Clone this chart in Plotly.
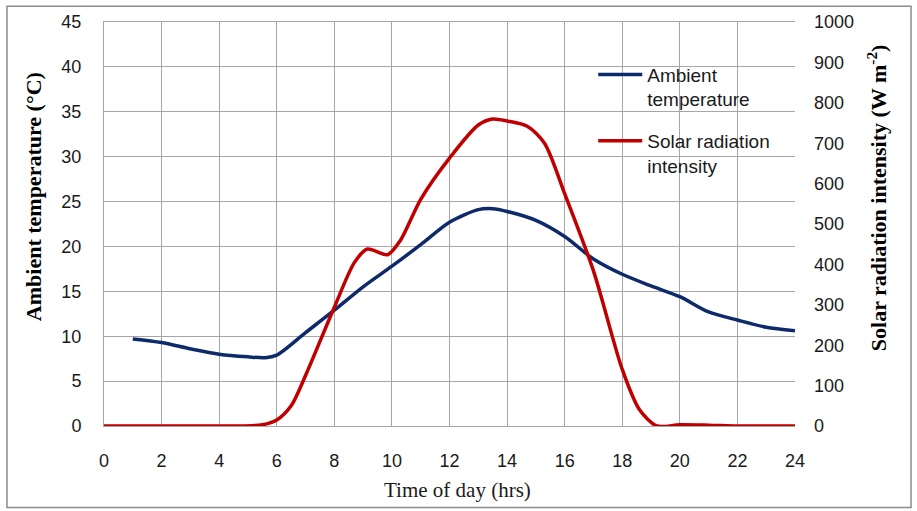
import plotly.graph_objects as go

hours_temp = [1, 2, 3, 4, 5, 5.6, 6, 7, 8, 9, 10, 11, 12, 13, 13.5, 14, 15, 16, 17, 18, 19, 20, 21, 22, 23, 24]
ambient_temp = [9.7, 9.3, 8.6, 8.0, 7.7, 7.6, 7.9, 10.4, 12.9, 15.5, 17.8, 20.2, 22.7, 24.1, 24.2, 23.9, 22.9, 21.1, 18.6, 16.9, 15.6, 14.4, 12.7, 11.8, 11.0, 10.6]

hours_solar = [0, 1, 2, 3, 4, 4.8, 5.5, 6, 6.5, 7, 8, 8.7, 9.15, 9.85, 10.3, 11, 12, 13, 13.5, 14, 14.7, 15.3, 16, 17, 18, 18.6, 19.2, 20, 21, 22, 23, 24]
solar_rad = [0, 0, 0, 0, 0, 0, 3, 15, 50, 125, 294, 405, 438, 424, 460, 561, 663, 745, 760, 755, 742, 700, 575, 384, 140, 40, 0, 3, 2, 0, 0, 0]

x_ticks = list(range(0, 25, 2))
temp_ticks = list(range(0, 46, 5))
solar_ticks = list(range(0, 1001, 100))

tick_font = dict(family="Liberation Sans, Arial", size=18, color="#1a1a1a")
serif = "Liberation Serif, Times New Roman"

fig = go.Figure()
fig.add_trace(go.Scatter(
    x=hours_temp, y=ambient_temp, name="Ambient<br>temperature", legendgroup="a",
    mode="lines", line=dict(color="#0d2a6b", width=3.5, shape="spline", smoothing=0.8),
))
fig.add_trace(go.Scatter(
    x=hours_solar, y=solar_rad, name="Solar radiation<br>intensity", yaxis="y2", legendgroup="b",
    mode="lines", line=dict(color="#c00000", width=3.5, shape="spline", smoothing=0.8),
))

grid = "#a6a6a6"
fig.update_layout(
    width=917, height=511,
    margin=dict(l=104, r=122, t=20, b=85),
    paper_bgcolor="white", plot_bgcolor="white",
    showlegend=True,
    legend=dict(x=0.708, y=0.917, xanchor="left", yanchor="top", valign="top",
                font=dict(family="Liberation Sans, Arial", size=19, color="#1a1a1a"),
                bgcolor="rgba(255,255,255,0)", tracegroupgap=14, itemwidth=44),
    xaxis=dict(range=[0, 24], tickvals=x_ticks, ticktext=[str(v) for v in x_ticks],
               showgrid=True, gridcolor=grid, gridwidth=1,
               showline=True, linecolor=grid, mirror=True, zeroline=False,
               ticks="", tickfont=tick_font, ticklabelstandoff=18),
    yaxis=dict(range=[0, 45], tickvals=temp_ticks, showgrid=True, gridcolor=grid, gridwidth=1,
               showline=True, linecolor=grid, zeroline=False, ticks="", tickfont=tick_font,
               ticklabelstandoff=18),
    yaxis2=dict(range=[0, 1000], tickvals=solar_ticks, overlaying="y", side="right",
                showgrid=False, showline=False, zeroline=False, ticks="", tickfont=tick_font,
                ticklabelstandoff=18),
    annotations=[
        dict(text="Time of day (hrs)", xref="paper", yref="paper", x=0.512, y=-0.1576,
             xanchor="center", yanchor="middle", showarrow=False,
             font=dict(family=serif, size=21, color="#1a1a1a")),
        dict(text="<b>Ambient temperature (°C)</b>", xref="paper", yref="paper", x=-0.1027, y=0.5665,
             xanchor="center", yanchor="middle", textangle=-90, showarrow=False,
             font=dict(family=serif, size=22, color="black")),
        dict(text="<b>Solar radiation intensity (W m<sup>-2</sup>)</b>", xref="paper", yref="paper",
             x=1.1187, y=0.564, xanchor="center", yanchor="middle", textangle=-90, showarrow=False,
             font=dict(family=serif, size=22, color="black")),
    ],
    shapes=[dict(type="rect", xref="paper", yref="paper",
                 x0=-0.1404, x1=1.1679, y0=-0.202, y1=1.039,
                 line=dict(color="#8c8c8c", width=1.5), fillcolor="rgba(0,0,0,0)", layer="below")],
)

fig.write_html("out.html")
